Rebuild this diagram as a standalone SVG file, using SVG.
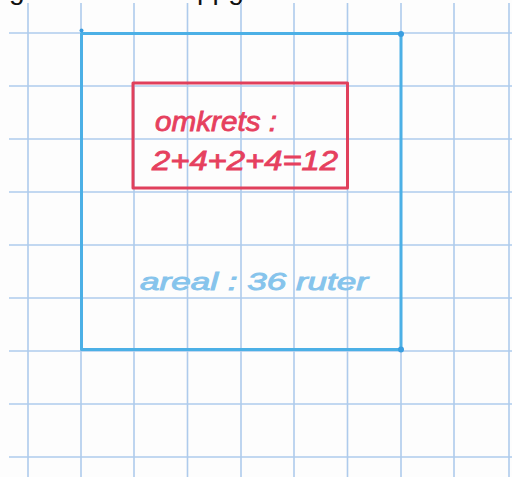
<svg xmlns="http://www.w3.org/2000/svg" width="512" height="477" viewBox="0 0 512 477">
<style>
.grid line{stroke:#aecbec;stroke-width:1.6}
.blue{fill:none;stroke:#4cb0e6;stroke-width:3;stroke-linejoin:round}
.red{fill:none;stroke:#e0405c;stroke-width:3;stroke-linejoin:round}
.hand{font-family:"Liberation Sans",Arial,sans-serif;font-style:italic}
.redtxt{fill:#e6405e;stroke:#e6405e;stroke-width:0.8;font-size:27px}
.bluetxt{fill:#86c4ec;stroke:#86c4ec;stroke-width:0.9;font-size:24px}
.cap{font-family:"Liberation Sans",Arial,sans-serif;font-size:28px;fill:#111}
</style>
<rect width="512" height="477" fill="#fdfdfd"/>
<g id="caption"><text class="cap" x="9" y="-1">g</text><text class="cap" x="197" y="-1">ppg</text></g>
<g id="grid" class="grid">
<line x1="28" y1="3" x2="28" y2="477"/>
<line x1="81" y1="3" x2="81" y2="477"/>
<line x1="134" y1="3" x2="134" y2="477"/>
<line x1="187.5" y1="3" x2="187.5" y2="477"/>
<line x1="241" y1="3" x2="241" y2="477"/>
<line x1="294" y1="3" x2="294" y2="477"/>
<line x1="347.5" y1="3" x2="347.5" y2="477"/>
<line x1="401" y1="3" x2="401" y2="477"/>
<line x1="454" y1="3" x2="454" y2="477"/>
<line x1="509" y1="3" x2="509" y2="477"/>
<line x1="9" y1="33" x2="512" y2="33"/>
<line x1="9" y1="86" x2="512" y2="86"/>
<line x1="9" y1="139" x2="512" y2="139"/>
<line x1="9" y1="192" x2="512" y2="192"/>
<line x1="9" y1="245" x2="512" y2="245"/>
<line x1="9" y1="298" x2="512" y2="298"/>
<line x1="9" y1="351" x2="512" y2="351"/>
<line x1="9" y1="404" x2="512" y2="404"/>
<line x1="9" y1="457" x2="512" y2="457"/>
</g>
<g id="square">
<rect class="blue" x="81.5" y="33.5" width="319.5" height="316"/>
<circle cx="401" cy="34" r="3" fill="#3a9ee0"/>
<circle cx="401" cy="349.5" r="3" fill="#3a9ee0"/>
<circle cx="81.5" cy="30.5" r="2" fill="#3a9ee0"/>
<text class="hand bluetxt" x="140" y="290" textLength="228" lengthAdjust="spacingAndGlyphs">areal : 36 ruter</text>
</g>
<g id="perimeter-box">
<rect class="red" x="133" y="83" width="214.5" height="105"/>
<text class="hand redtxt" x="155" y="131" textLength="122" lengthAdjust="spacingAndGlyphs">omkrets :</text>
<text class="hand redtxt" x="152" y="170" textLength="186" lengthAdjust="spacingAndGlyphs">2+4+2+4=12</text>
</g>
</svg>
